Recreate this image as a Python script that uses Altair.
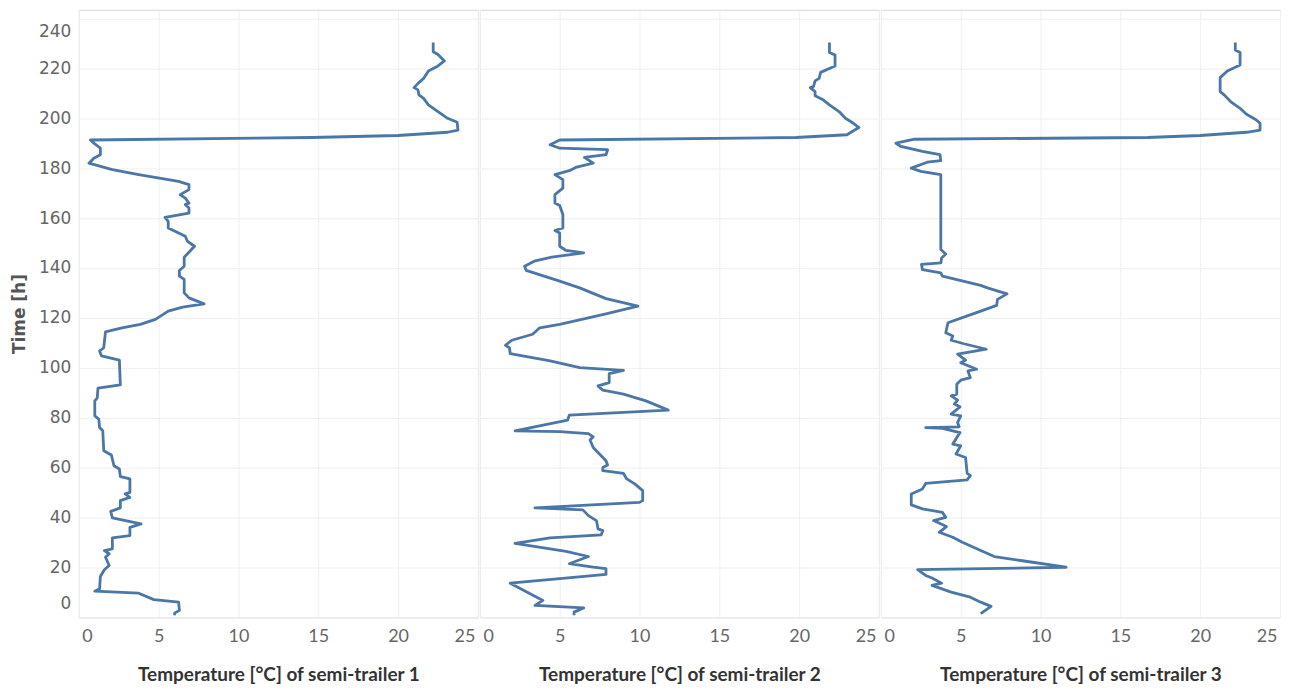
import altair as alt
import pandas as pd

# Semi-trailer 1: time [h], temperature [°C]
t1_time = [0.7, 1.6, 2.7, 6.0, 7.0, 9.6, 10.4, 11.4, 16.3, 19.0, 20.7, 24.0, 25.4, 26.7, 27.4, 31.8, 32.7, 36.0,
           37.4, 39.8, 42.4, 43.8, 46.7, 48.0, 49.4, 50.0, 55.4, 56.3, 59.4, 60.7, 65.0, 66.7, 74.7, 76.0, 79.4,
           80.7, 86.7, 87.8, 91.8, 93.1, 103.0, 104.7, 106.7, 108.0, 114.4, 116.0, 117.4, 119.4, 122.7, 124.3,
           125.6, 128.0, 130.0, 135.4, 136.7, 139.0, 140.7, 144.3, 147.0, 148.7, 150.7, 152.7, 154.0, 156.0,
           158.7, 160.3, 162.0, 164.0, 165.4, 166.0, 168.0, 169.4, 171.4, 173.4, 174.7, 177.4, 179.4, 182.0,
           184.0, 185.4, 188.0, 190.0, 191.3, 192.3, 193.1, 194.4, 195.3, 198.4, 200.0, 202.7, 205.4, 208.0,
           209.4, 211.4, 212.3, 214.0, 216.0, 219.0, 221.0, 223.0, 225.6, 226.7, 230.4]
t1_temp = [6.0, 6.0, 6.3, 6.25, 4.7, 3.75, 1.0, 1.3, 1.35, 1.6, 1.9, 1.67, 1.9, 1.6, 2.1, 2.1, 3.2, 3.2,
           3.9, 2.1, 2.0, 2.6, 2.6, 3.2, 2.9, 3.2, 3.2, 2.6, 2.54, 2.2, 2.04, 1.56, 1.5, 1.3, 1.25,
           1.0, 1.0, 1.15, 1.2, 2.6, 2.54, 1.42, 1.3, 1.56, 1.67, 2.7, 3.85, 4.8, 5.6, 6.5,
           7.85, 6.9, 6.6, 6.6, 6.3, 6.3, 6.6, 6.6, 7.0, 7.25, 6.8, 6.67, 6.25, 5.6,
           5.6, 5.4, 6.9, 6.9, 6.67, 6.9, 6.67, 6.35, 6.9, 6.9, 6.25, 3.75, 2.1, 0.63,
           0.94, 1.35, 1.35, 0.94, 0.73, 14.6, 20.0, 23.1, 23.75, 23.7, 23.1, 22.5, 21.9, 21.6,
           21.3, 21.25, 21.0, 21.25, 21.6, 21.9, 22.5, 22.9, 22.5, 22.2, 22.2]

# Semi-trailer 2
t2_time = [0.7, 2.0, 3.7, 4.7, 6.7, 13.6, 15.4, 17.1, 19.4, 20.0, 21.4, 24.3, 26.4, 29.6, 31.8, 33.0, 34.7,
           35.4, 38.7, 40.7, 43.0, 43.8, 46.0, 46.7, 50.7, 53.4, 55.4, 57.6, 58.7, 60.0, 61.0, 62.7, 66.0,
           68.0, 71.0, 72.3, 73.6, 74.4, 74.7, 79.0, 81.0, 83.0, 86.7, 89.4, 91.0, 92.7, 94.0, 97.6, 98.9,
           100.0, 102.7, 105.6, 108.0, 109.0, 111.0, 113.4, 116.0, 117.4, 121.6, 124.7, 127.7, 132.0, 134.7,
           139.0, 140.7, 142.7, 144.3, 146.0, 147.0, 148.7, 154.0, 155.0, 156.0, 161.4, 165.0, 166.0, 169.4,
           172.0, 175.4, 177.4, 179.0, 180.3, 182.0, 184.3, 185.4, 187.4, 188.0, 189.4, 191.3, 192.3, 193.4,
           195.0, 196.3, 198.0, 200.0, 202.7, 205.4, 207.4, 209.0, 210.7, 212.3, 212.7, 215.0, 216.0, 218.4,
           221.0, 225.4, 226.4, 230.4]
t2_temp = [5.9, 5.9, 6.5, 3.45, 3.95, 1.9, 5.0, 7.9, 7.9, 7.1, 5.6, 6.8, 5.4, 2.2, 4.4, 7.6, 7.7,
           7.4, 7.3, 6.8, 6.45, 3.45, 10.0, 10.2, 10.2, 9.7, 9.2, 9.0, 7.7, 7.7, 8.0, 7.9, 7.4,
           7.1, 6.9, 7.1, 6.8, 5.0, 2.2, 5.5, 5.6, 11.8, 10.4, 9.0, 7.7, 7.4, 8.1, 8.1, 9.0,
           6.25, 4.4, 1.9, 1.85, 1.6, 2.0, 3.3, 3.75, 5.0, 7.9, 9.9, 7.9, 6.25, 5.0,
           2.9, 2.8, 3.4, 4.5, 6.5, 5.4, 5.0, 5.0, 4.7, 5.2, 5.2, 5.0, 4.7, 4.7,
           5.2, 5.2, 4.7, 5.6, 6.0, 7.1, 6.55, 7.9, 8.0, 5.0, 4.4, 5.0, 19.8, 23.0,
           23.4, 23.75, 23.4, 22.9, 22.5, 21.9, 21.5, 21.0, 21.0, 20.7, 20.9, 21.0, 21.25, 21.35,
           22.25, 22.25, 21.9, 21.9]

# Semi-trailer 3
t3_time = [1.4, 4.3, 6.0, 8.0, 10.0, 12.7, 13.6, 15.7, 16.7, 19.0, 20.0, 22.7, 24.3, 26.7, 30.0, 32.0, 34.0,
           36.3, 38.7, 40.0, 42.0, 43.4, 45.0, 49.4, 51.4, 53.6, 55.0, 56.7, 57.6, 64.0, 65.4, 68.7, 69.4,
           74.0, 75.7, 76.0, 76.3, 78.0, 80.7, 81.4, 84.3, 85.4, 87.0, 88.7, 89.4, 93.4, 95.0, 96.0, 98.7,
           99.4, 102.0, 103.0, 105.4, 107.4, 109.6, 111.0, 112.7, 114.0, 118.0, 121.0, 122.7, 125.0, 127.4,
           129.6, 132.0, 133.0, 136.7, 138.0, 139.3, 141.4, 142.0, 144.0, 145.6, 147.4, 177.4, 178.7, 180.0,
           182.4, 183.0, 185.4, 186.7, 188.7, 190.0, 191.6, 192.3, 193.1, 194.4, 195.3, 198.0, 199.4, 201.6,
           204.0, 206.7, 209.4, 210.7, 216.3, 219.0, 221.4, 226.4, 227.4, 230.4]
t3_temp = [6.25, 6.9, 6.25, 5.6, 4.4, 3.2, 3.8, 3.2, 2.8, 2.3, 11.6, 8.75, 7.1, 6.25, 5.1, 4.5, 3.65,
           4.1, 3.3, 4.06, 3.85, 2.6, 1.9, 1.9, 2.6, 2.8, 5.4, 5.6, 5.4, 5.3, 4.7, 5.0, 4.5,
           4.95, 3.85, 2.8, 4.9, 4.8, 5.0, 4.4, 4.95, 4.6, 4.8, 4.4, 4.75, 4.75, 5.0, 5.6, 5.45,
           6.0, 5.0, 5.3, 4.8, 6.6, 5.2, 4.4, 4.5, 4.06, 4.2, 5.5, 6.25, 7.25, 7.3,
           7.9, 6.67, 6.25, 3.85, 3.75, 2.6, 2.54, 3.75, 3.8, 4.06, 3.75, 3.75, 2.5, 1.9,
           2.9, 3.75, 3.7, 2.6, 1.25, 0.94, 2.1, 16.7, 20.0, 22.9, 23.75, 23.75, 23.5, 22.9,
           22.5, 21.9, 21.5, 21.25, 21.25, 21.7, 22.5, 22.5, 22.2, 22.2]

x_ticks = [0, 5, 10, 15, 20, 25]
y_ticks = [0, 20, 40, 60, 80, 100, 120, 140, 160, 180, 200, 220, 240]

series = [("Temperature [°C] of semi-trailer 1", t1_time, t1_temp),
          ("Temperature [°C] of semi-trailer 2", t2_time, t2_temp),
          ("Temperature [°C] of semi-trailer 3", t3_time, t3_temp)]

LINE = "#4a76a8"
GRID = "#efefef"

panels = []
for i, (title, tt, vv) in enumerate(series):
    df = pd.DataFrame({"time": tt, "temp": vv})
    if i == 0:
        yaxis = alt.Axis(values=y_ticks, title="Time [h]", grid=True, gridColor=GRID, domain=False,
                         ticks=False, labelPadding=8, labelFlush=12, labelFlushOffset=-5,
                         labelFontSize=17, labelColor="#666666", labelFont="DejaVu Sans",
                         titleFontSize=17, titleFontWeight="bold", titleColor="#555555",
                         titleFont="DejaVu Sans", titlePadding=10)
    else:
        yaxis = alt.Axis(values=y_ticks, title=None, labels=False, grid=True, gridColor=GRID,
                         domain=False, ticks=False)
    xaxis = alt.Axis(values=x_ticks, title=title, grid=True, gridColor=GRID, domain=False,
                     ticks=False, labelPadding=10, labelFlush=True, labelFlushOffset=-3,
                     labelFontSize=18, labelColor="#666666", labelFont="Lato",
                     titleFontSize=19, titleFontWeight="bold", titleColor="#333333",
                     titleFont="Lato", titlePadding=20)
    ch = alt.Chart(df).mark_line(color=LINE, strokeWidth=2.8, strokeJoin="round").encode(
        x=alt.X("temp:Q", scale=alt.Scale(domain=[0, 25], nice=False, zero=False), axis=xaxis),
        y=alt.Y("time:Q", scale=alt.Scale(domain=[-0.1, 243.5], nice=False, zero=False), axis=yaxis),
        order=alt.Order("time:Q"),
    ).properties(width=400, height=609)
    panels.append(ch)

chart = alt.hconcat(*panels, spacing=0).configure_view(
    stroke="#d6d6d6", strokeWidth=1
).properties(
    padding={"left": 2, "top": 0, "right": 0, "bottom": 0},
    background="white",
)

chart.save("out.html", embed_options={"renderer": "svg", "actions": False})
